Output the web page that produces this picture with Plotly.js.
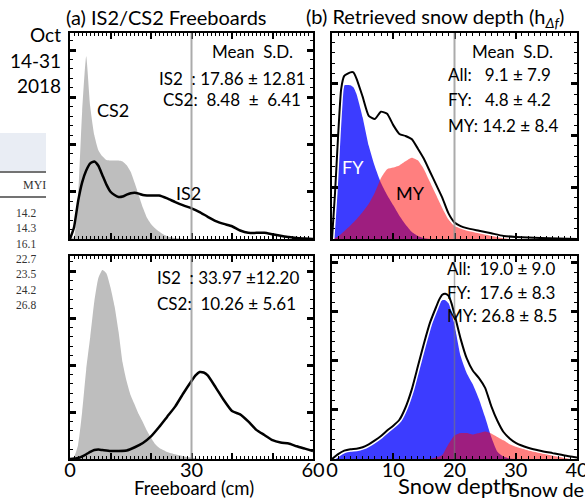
<!DOCTYPE html>
<html><head><meta charset="utf-8">
<script src="https://cdn.plot.ly/plotly-3.0.1.min.js"></script>
<style>html,body{margin:0;padding:0;background:#fff}#c{width:585px;height:500px}</style>
</head><body><div id="c"></div>
<script>
// ---- data ----
const csTopX = [0,1,2,3,4,5,6,7,8,9,10,11,12,13,14,15,16,17,18,19,20,21,22,23,24,26,28];
const csTopY = [0,0.05,0.9,2.7,3.87,2.8,2.2,1.88,1.75,1.67,1.66,1.66,1.66,1.64,1.56,1.42,1.18,0.92,0.66,0.45,0.32,0.23,0.16,0.1,0.06,0.02,0];
const isTopX = [0,1,2,3,4,5,6,7,8,9,10,11,12,13,14,15,16,17,18,19,20,22,24,26,28,30,32,34,36,38,40,42,44,46,48,50,52,54,56,58,60];
const isTopY = [0,0.25,0.8,1.2,1.45,1.6,1.64,1.55,1.35,1.15,1.0,0.93,0.89,0.9,0.94,0.97,0.98,0.96,0.93,0.92,0.92,0.92,0.86,0.78,0.71,0.65,0.57,0.47,0.38,0.32,0.27,0.18,0.13,0.13,0.13,0.1,0.07,0.04,0.02,0.01,0];

const csBotX = [0,1,2,3,4,5,6,7,8,9,10,11,12,13,14,15,16,17,18,19,20,21,22,24,26,28,30,32];
const csBotY = [0,0.05,0.3,1.0,1.9,2.6,3.35,3.85,4.02,3.95,3.65,3.25,2.7,2.05,1.65,1.35,1.15,0.95,0.78,0.6,0.45,0.32,0.24,0.15,0.1,0.06,0.03,0];
const isBotX = [0,2,4,5,6,7,8,10,12,14,16,18,20,22,24,26,28,30,31,32,33,34,36,38,40,42,44,46,48,50,52,54,56,58,60];
const isBotY = [0,0.02,0.1,0.15,0.19,0.2,0.19,0.17,0.17,0.18,0.25,0.34,0.48,0.68,0.9,1.12,1.4,1.66,1.78,1.85,1.84,1.78,1.52,1.25,1.02,0.95,0.8,0.62,0.51,0.4,0.35,0.33,0.27,0.22,0.17];

const allTopX = [0,0.5,1,1.5,2,3,3.5,4,5,6,7,8,9,10,11,12,13,14,15,16,17,18,19,20,21,22,24,26,28,30,34,40];
const allTopY = [0,0.9,2.0,2.9,3.15,3.22,3.22,3.1,2.75,2.38,2.32,2.46,2.42,2.2,2.03,1.99,1.93,1.75,1.55,1.3,1.05,0.8,0.5,0.32,0.25,0.21,0.16,0.11,0.06,0.04,0.02,0];
const fyTopX = [0,0.5,1,1.5,2,3,3.5,4,5,6,7,8,9,10,11,12,13,14,15,16];
const fyTopY = [0,0.8,1.9,2.7,2.97,2.97,2.93,2.8,2.35,1.8,1.4,1.08,0.85,0.65,0.45,0.28,0.14,0.06,0.02,0];
const myTopX = [0,1,2,3,4,5,6,7,8,9,10,11,12,13,14,15,16,17,18,19,20,21,22,24,26,28,30,32,36,40];
const myTopY = [0,0.05,0.15,0.26,0.38,0.52,0.68,0.9,1.18,1.35,1.38,1.42,1.5,1.57,1.52,1.35,1.1,0.85,0.6,0.38,0.25,0.22,0.19,0.15,0.11,0.07,0.05,0.03,0.01,0];

const allBotX = [0,1,2,3,4,5,6,7,8,9,10,11,12,13,14,15,16,17,17.5,18,18.5,19,19.5,20,21,22,23,24,25,26,27,28,29,30,32,34,36,38,40];
const allBotY = [0,0.1,0.17,0.2,0.21,0.24,0.3,0.38,0.47,0.58,0.68,0.8,1.05,1.41,1.88,2.35,2.78,3.1,3.25,3.35,3.37,3.33,3.18,2.95,2.45,2.05,1.8,1.65,1.45,1.08,0.78,0.55,0.42,0.33,0.23,0.17,0.12,0.07,0.03];
const fyBotX = [0,1,2,3,4,5,6,7,8,9,10,11,12,13,14,15,16,17,17.5,18,18.5,19,19.5,20,21,22,23,24,25,26,27,28,29,30];
const fyBotY = [0,0.1,0.17,0.2,0.21,0.24,0.3,0.38,0.47,0.58,0.68,0.8,1.03,1.38,1.83,2.3,2.72,3.03,3.18,3.24,3.24,3.18,3.08,2.75,2.1,1.75,1.52,1.22,0.85,0.45,0.15,0.05,0.01,0];
const myBotX = [0,15,16,17,18,19,20,21,22,23,24,25,26,27,28,29,30,32,34,36,38,40];
const myBotY = [0,0,0,0.03,0.08,0.3,0.48,0.53,0.53,0.5,0.53,0.56,0.52,0.45,0.38,0.3,0.25,0.18,0.13,0.09,0.05,0.02];

const freeboardTicks = [0,10,20,30,40,50,60];
const freeboardTickText = ['0',' ',' ','30',' ',' ','60'];
const snowTicks = [0,10,20,30,40];
const meanLineFreeboard = 30, meanLineSnow = 20;

const statsA1 = ['Mean  S.D.','IS2  : 17.86 ± 12.81','CS2:  8.48  ±  6.41'];
const statsB1 = ['Mean  S.D.','All:   9.1 ± 7.9','FY:   4.8 ± 4.2','MY: 14.2 ± 8.4'];
const statsA2 = ['IS2  : 33.97 ±12.20','CS2:  10.26 ± 5.61'];
const statsB2 = ['All:  19.0 ± 9.0','FY:  17.6 ± 8.3','MY: 26.8 ± 8.5'];
const dateLabel = ['Oct','14-31','2018'];
const tableHeader = 'MYI';
const tableValues = ['14.2','14.3','16.1','22.7','23.5','24.2','26.8'];

// ---- styling ----
const W=585,H=500;
const FONT='Lato, "Noto Sans", sans-serif';
const px=(x)=>x/W, py=(y)=>1-y/H;
const BLUE='rgb(60,60,255)', RED='rgba(255,0,0,0.5)', GRAY='rgb(190,190,190)';

function xAxis(dom, range, anchor, tv, tt, labels){
  return {domain:dom, range:range, anchor:anchor, tickvals:tv, ticktext:tt, showticklabels:labels,
    ticks:'inside', ticklen:6, tickwidth:2, tickcolor:'black', showline:true, linecolor:'black', linewidth:2,
    mirror:'ticks', showgrid:false, zeroline:false, ticklabelstandoff:-8, ticklabeloverflow:'allow',
    tickfont:{family:FONT,size:20,color:'black'},
    minor:{dtick:1, ticks:'inside', ticklen:3, tickwidth:1, tickcolor:'black', showgrid:false}};
}
function yAxis(dom, range, anchor){
  return {domain:dom, range:range, anchor:anchor, dtick:1, tick0:0, showticklabels:false,
    ticks:'inside', ticklen:6, tickwidth:3, tickcolor:'black', showline:true, linecolor:'black', linewidth:2,
    mirror:'ticks', showgrid:false, zeroline:false,
    minor:{dtick:0.2, ticks:'inside', ticklen:3, tickwidth:1, tickcolor:'black', showgrid:false}};
}
const dxL=[px(70),px(313)], dxR=[px(332),px(577)];
const dyT=[py(239),py(33)], dyB=[py(459),py(256)];

const sp={shape:'spline',smoothing:0.5};
function fillTr(x,y,color,xa,ya){return {x:x,y:y,xaxis:xa,yaxis:ya,type:'scatter',mode:'lines',fill:'tozeroy',fillcolor:color,line:Object.assign({width:0,color:color},sp),hoverinfo:'skip'};}
function lineTr(x,y,xa,ya,w,c){return {x:x,y:y,xaxis:xa,yaxis:ya,type:'scatter',mode:'lines',line:Object.assign({width:w,color:c},sp),hoverinfo:'skip'};}

const data=[
  fillTr(csTopX,csTopY,GRAY,'x','y'),
  lineTr(isTopX,isTopY,'x','y',2.5,'black'),
  fillTr(fyTopX,fyTopY,BLUE,'x2','y2'),
  fillTr(myTopX,myTopY,RED,'x2','y2'),
  lineTr(allTopX,allTopY,'x2','y2',5,'white'),
  lineTr(allTopX,allTopY,'x2','y2',2,'black'),
  fillTr(csBotX,csBotY,GRAY,'x3','y3'),
  lineTr(isBotX,isBotY,'x3','y3',2.5,'black'),
  fillTr(fyBotX,fyBotY,BLUE,'x4','y4'),
  fillTr(myBotX,myBotY,RED,'x4','y4'),
  lineTr(allBotX,allBotY,'x4','y4',5,'white'),
  lineTr(allBotX,allBotY,'x4','y4',2,'black')
];

const shapes=[
  {type:'line',xref:'x',yref:'y domain',x0:meanLineFreeboard,x1:meanLineFreeboard,y0:0,y1:1,line:{color:'rgba(150,150,150,0.8)',width:2}},
  {type:'line',xref:'x2',yref:'y2 domain',x0:meanLineSnow,x1:meanLineSnow,y0:0,y1:1,line:{color:'rgba(150,150,150,0.8)',width:2}},
  {type:'line',xref:'x3',yref:'y3 domain',x0:meanLineFreeboard,x1:meanLineFreeboard,y0:0,y1:1,line:{color:'rgba(150,150,150,0.8)',width:2}},
  {type:'line',xref:'x4',yref:'y4 domain',x0:meanLineSnow,x1:meanLineSnow,y0:0,y1:1,line:{color:'rgba(120,120,120,0.6)',width:1.5}},
  {type:'rect',xref:'paper',yref:'paper',x0:0,x1:px(46),y0:py(171),y1:py(133),fillcolor:'#e9edf4',line:{width:0},layer:'below'},
  {type:'line',xref:'paper',yref:'paper',x0:0,x1:px(46),y0:py(172),y1:py(172),line:{color:'#444',width:1.5}},
  {type:'line',xref:'paper',yref:'paper',x0:0,x1:px(46),y0:py(197),y1:py(197),line:{color:'#444',width:1.5}}
];

const ann=[];
function A(text,x,y,size,xanchor,color,fam){ann.push({text:text,xref:'paper',yref:'paper',x:px(x),y:py(y),xanchor:xanchor||'center',yanchor:'middle',showarrow:false,font:{family:fam||FONT,size:size,color:color||'black'}});}
A('(a) IS2/CS2 Freeboards',64,17,20,'left');
A('(b) Retrieved snow depth (h<sub><i>Δf</i></sub>)',304,17,20,'left');
dateLabel.forEach((t,i)=>A(t,63,[34,60,86][i],19,'right'));
A(statsA1[0],252,52,17);
A(statsA1[1],308,78,17,'right');
A(statsA1[2],303,100,17,'right');
A('CS2',113,110,18); A('IS2',188,193,18);
A(statsB1[0],512,52,17);
A(statsB1[1],446,74,17,'left');
A(statsB1[2],446,100,17,'left');
A(statsB1[3],446,125,17,'left');
A('FY',353,167,18,'center','white'); A('MY',410,193,18);
A(statsA2[0],155,277,17,'left');
A(statsA2[1],155,303,17,'left');
A(statsB2[0],445,268,17,'left');
A(statsB2[1],445,292,17,'left');
A(statsB2[2],445,315,17,'left');
A('Freeboard (cm)',194,488,18.5);
A('Snow depth (cm)',507,489,20,'left');
A('Snow depth',455,485,22);
A(tableHeader,34,185,12,'center','#333','"Liberation Serif", serif');
tableValues.forEach((t,i)=>A(t,38,[213,228,244,259,274,290,305][i],11.5,'right','#333','"Liberation Serif", serif'));

const layout={width:W,height:H,margin:{l:0,r:0,t:0,b:0},paper_bgcolor:'white',plot_bgcolor:'rgba(0,0,0,0)',showlegend:false,
  xaxis:xAxis(dxL,[0,60],'y',freeboardTicks,freeboardTickText,false),
  yaxis:yAxis(dyT,[0,4.36],'x'),
  xaxis2:xAxis(dxR,[0,40],'y2',snowTicks,snowTicks.map(String),false),
  yaxis2:yAxis(dyT,[0,3.98],'x2'),
  xaxis3:xAxis(dxL,[0,60],'y3',freeboardTicks,freeboardTickText,true),
  yaxis3:yAxis(dyB,[0,4.32],'x3'),
  xaxis4:xAxis(dxR,[0,40],'y4',snowTicks,snowTicks.map(String),true),
  yaxis4:yAxis(dyB,[0,4.14],'x4'),
  shapes:shapes,annotations:ann};
Plotly.newPlot('c',data,layout,{staticPlot:true,displayModeBar:false});
</script></body></html>
